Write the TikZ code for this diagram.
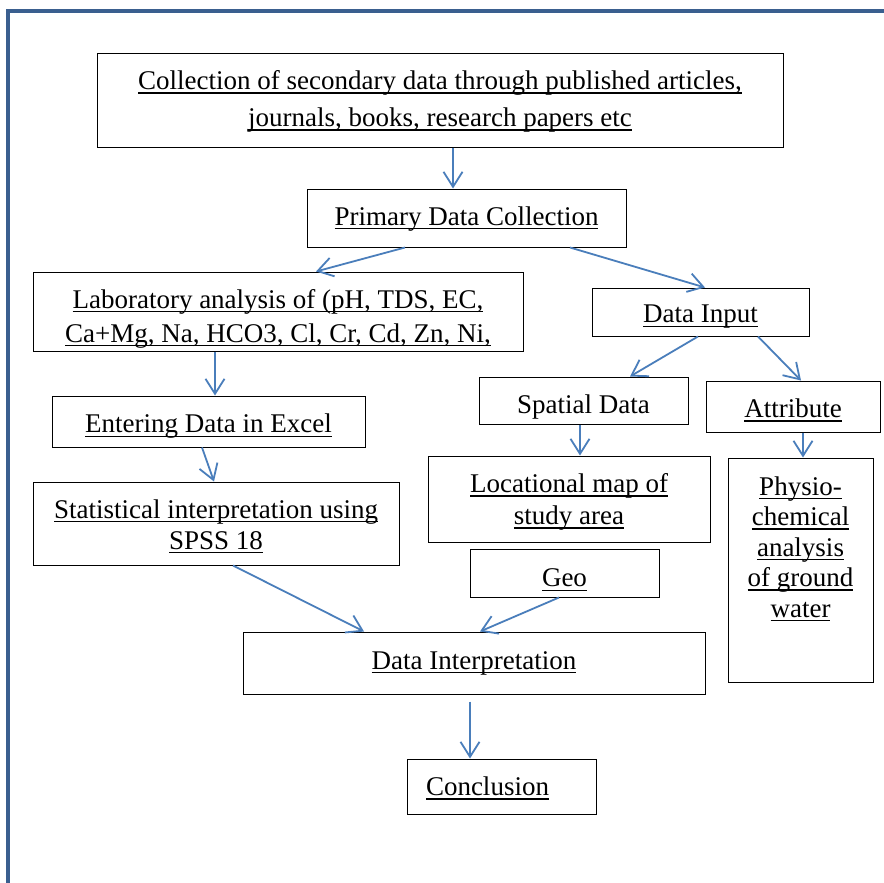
\documentclass[tikz,border=0pt]{standalone}
\usepackage{fontspec}
\setmainfont{Liberation Serif}
\usepackage{tikz}
\usetikzlibrary{arrows.meta}
\usetikzlibrary{calc}
\definecolor{framecol}{HTML}{3A5F8F}
\definecolor{arrowcol}{HTML}{4A7EBB}
% underlined line of text, optionally lowered without changing its box
\newcommand{\undl}[2][0pt]{\setbox0\hbox{#2}\raisebox{-#1}[\height][\depth]{\rlap{\rule[-4pt]{\wd0}{1.4pt}}\box0}}
\tikzstyle{box}=[draw=black,line width=1pt,inner sep=0pt,align=center,font=\fontsize{27}{32}\selectfont]
\tikzstyle{flow}=[draw=arrowcol,line width=1.8pt,-{Straight Barb[length=15pt,width=19pt,line width=1.8pt]}]

\begin{document}
\begin{tikzpicture}[x=1pt,y=-1pt]

  \useasboundingbox (0,0) rectangle (884,883);
  \fill[white] (0,0) rectangle (884,883);

  % outer frame, cut off on the right and bottom
  \draw[framecol,line width=4.6pt] (890,11) -- (8,11) -- (8,890);

  \node[box,minimum width=686,minimum height=93] (top) at (440,100.5)
     {\undl[1pt]{Collection of secondary data through published articles,}\\[5pt]
      \undl[1pt]{journals, books, research papers etc}};
  \node[box,minimum width=319,minimum height=58] (prim) at (466.5,218) {\undl[1pt]{Primary Data Collection}};
  \node[box,minimum width=490,minimum height=79] (lab) at (278,311.5)
     {\undl[7pt]{Laboratory analysis of (pH, TDS, EC,}\\[2pt]
      \undl[7pt]{Ca+Mg, Na, HCO3, Cl, Cr, Cd, Zn, Ni,}};
  \node[box,minimum width=217,minimum height=48] (input) at (700.5,312) {\undl[5pt]{Data Input}};
  \node[box,minimum width=209,minimum height=47] (spatial) at (583.5,400.5) {\raisebox{-7pt}[\height][\depth]{Spatial Data}};
  \node[box,minimum width=174,minimum height=51] (attr) at (793,406.5) {\undl[4pt]{Attribute}};
  \node[box,minimum width=313,minimum height=51] (excel) at (208.5,421.5) {\undl[5pt]{Entering Data in Excel}};
  \node[box,minimum width=282,minimum height=86] (locmap) at (569,499)
     {\undl[3pt]{Locational map of}\\ \undl[3pt]{study area}};
  \node[box,minimum width=145,minimum height=224] (physio) at (800.5,570)
     {\undl{Physio-}\\[-1.5pt] \undl{chemical}\\[-1.5pt] \undl{analysis}\\[-1.5pt]
      \undl{of ground}\\[-1.5pt] \undl{water}\\[14pt]\mbox{}};
  \node[box,minimum width=366,minimum height=83] (stat) at (216,523.5)
     {\undl[3pt]{Statistical interpretation using}\\[-1pt] \undl[3pt]{SPSS 18}};
  \node[box,minimum width=189,minimum height=48] (geo) at (564.5,573) {\undl[7pt]{Geo}};
  \node[box,minimum width=462,minimum height=62] (interp) at (474,663) {\undl{Data Interpretation}};
  \node[box,minimum width=189,minimum height=55] (concl) at (501.5,786.5) {\undl[2pt]{Conclusion}\hspace*{28pt}};

  \foreach \s/\sx/\d/\dx in {top/13/prim/-13.5, prim/-61.5/lab/38, prim/103.5/input/4.5,
      input/-2.5/spatial/46.5, input/57.5/attr/8, lab/-63/excel/6.5, excel/-6.5/stat/-2,
      spatial/-3.5/locmap/11, attr/10/physio/2.5, stat/17/interp/-110, geo/-5.5/interp/6}
    \draw[flow] ([xshift=\sx]\s.south) -- ([xshift=\dx]\d.north);

  \draw[flow,shorten <=7pt] ([xshift=-4]interp.south) -- ([xshift=-31.5]concl.north);

\end{tikzpicture}
\end{document}
